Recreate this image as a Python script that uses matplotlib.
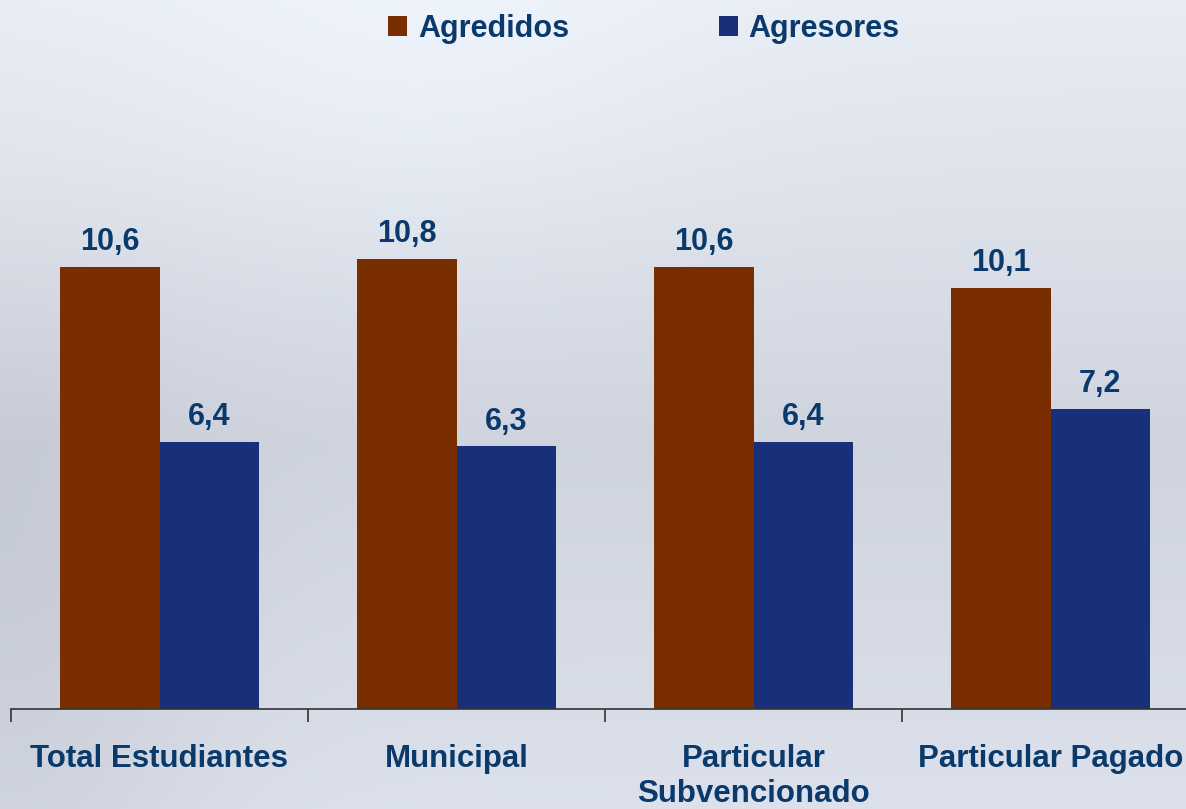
import numpy as np
import matplotlib
matplotlib.use("Agg")
import matplotlib.pyplot as plt
from matplotlib.ticker import FixedLocator

categories = ["Total Estudiantes", "Municipal", "Particular\nSubvencionado", "Particular Pagado"]
agredidos = [10.6, 10.8, 10.6, 10.1]
agresores = [6.4, 6.3, 6.4, 7.2]
series_names = ["Agredidos", "Agresores"]

c_orange = "#7a2e00"
c_blue = "#182f7a"
c_text = "#0a3a6b"

plt.rcParams['font.family'] = ['Liberation Sans', 'DejaVu Sans']

fig = plt.figure(figsize=(11.86, 8.09), dpi=100)

# background: soft grey-blue gradient approximating the sky photo
bg = fig.add_axes([0, 0, 1, 1], zorder=-10)
h, w = 200, 300
yy = np.linspace(0, 1, h)[:, None]
xx = np.linspace(0, 1, w)[None, :]
top = np.array([0.91, 0.93, 0.96])
mid = np.array([0.81, 0.83, 0.87])
bot = np.array([0.86, 0.88, 0.92])
img = np.zeros((h, w, 3))
for k in range(3):
    base = np.where(yy < 0.55, top[k] + (mid[k] - top[k]) * (yy / 0.55),
                    mid[k] + (bot[k] - mid[k]) * ((yy - 0.55) / 0.45))
    shade = -0.05 * np.exp(-((xx - 0.0) ** 2) / 0.03) * np.clip((yy - 0.2) / 0.5, 0, 1)
    light = 0.03 * np.exp(-((xx - 0.35) ** 2) / 0.06 - ((yy - 0.1) ** 2) / 0.05)
    img[:, :, k] = base + shade + light
img = np.clip(img, 0, 1)
bg.imshow(img, aspect='auto', extent=[0, 1, 0, 1], origin='upper', interpolation='bicubic')
bg.axis('off')

ax = fig.add_axes([11 / 1186, 100 / 809, 1188 / 1186, 500.4 / 809])
ax.patch.set_alpha(0)
x = np.arange(len(categories))
bw = 0.335
b1 = ax.bar(x - bw / 2, agredidos, bw, color=c_orange, label=series_names[0])
b2 = ax.bar(x + bw / 2, agresores, bw, color=c_blue, label=series_names[1])

for bars, vals in ((b1, agredidos), (b2, agresores)):
    for b, v in zip(bars, vals):
        ax.annotate(f"{v:.1f}".replace(".", ","), (b.get_x() + b.get_width() / 2, v),
                    xytext=(0, 7), textcoords="offset points", ha="center", va="bottom",
                    fontsize=22, fontweight="bold", color=c_text)

ax.set_xlim(-0.5, len(categories) - 0.5)
ax.set_ylim(0, 12)
ax.set_xticks(x)
ax.set_xticklabels(categories, fontsize=22.5, fontweight="bold", color=c_text, linespacing=1.22)
ax.xaxis.set_minor_locator(FixedLocator(np.arange(len(categories) + 1) - 0.5))
ax.tick_params(axis='x', which='major', length=0, pad=25)
ax.tick_params(axis='x', which='minor', length=9, width=1.2, color='#333333', direction='out')
for lab in ax.get_xticklabels():
    lab.set_verticalalignment('top')
ax.set_yticks([])
for s in ['top', 'right', 'left']:
    ax.spines[s].set_visible(False)
ax.spines['bottom'].set_color('#333333')
ax.spines['bottom'].set_linewidth(1.2)

fig.legend(handles=[b1, b2], labels=series_names, loc='upper center', bbox_to_anchor=(0.543, 1.017),
           ncol=2, frameon=False, handlelength=0.62, handleheight=0.62, handletextpad=0.35,
           columnspacing=4.9, prop={'family': 'Liberation Sans', 'weight': 'bold', 'size': 22},
           labelcolor=c_text)

fig.savefig("out.png", dpi=100)
